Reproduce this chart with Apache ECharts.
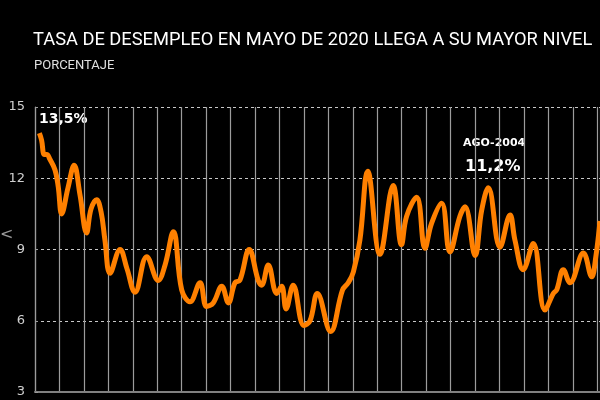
<!DOCTYPE html>
<html>
<head>
<meta charset="utf-8">
<script src="https://cdn.jsdelivr.net/npm/echarts@6/dist/echarts.min.js"></script>
<style>
  html, body { margin: 0; padding: 0; background: #000; }
  #chart { width: 600px; height: 400px; }
</style>
</head>
<body>
<div id="chart"></div>
<script>
// Tasa de desempleo (porcentaje): fecha en anios decimales
const years = [
  1986.18, 1986.27, 1986.38, 1986.48, 1986.61, 1986.82, 1986.95, 1987.09, 1987.35, 1987.6,
  1987.84, 1988.11, 1988.29, 1988.52, 1988.7, 1988.86, 1989.07, 1989.48, 1989.76, 1990.09,
  1990.57, 1991.04, 1991.32, 1991.66, 1992.0, 1992.34, 1992.75, 1993.02, 1993.29, 1993.64,
  1993.91, 1994.18, 1994.38, 1994.76, 1995.13, 1995.27, 1995.54, 1995.89, 1996.09, 1996.27,
  1996.56, 1997.0, 1997.25, 1997.55, 1998.09, 1998.58, 1998.81, 1999.02, 1999.29, 1999.61,
  2000.11, 2000.65, 2000.99, 2001.2, 2001.61, 2001.95, 2002.22, 2002.63, 2002.97, 2003.38,
  2003.59, 2004.0, 2004.27, 2004.54, 2005.02, 2005.43, 2005.63, 2005.97, 2006.38, 2006.86,
  2007.2, 2007.34, 2007.61, 2007.88, 2008.43, 2008.77, 2008.94, 2009.11
];
const rate = [
  13.9, 13.6, 13.0, 13.0, 12.8, 12.35, 11.65, 10.5, 11.6, 12.55,
  11.3, 9.7, 10.7, 11.1, 10.6, 9.4, 8.0, 9.0, 8.2, 7.2,
  8.7, 7.7, 8.35, 9.75, 7.3, 6.8, 7.6, 6.6, 6.75, 7.45,
  6.75, 7.6, 7.7, 9.0, 7.7, 7.5, 8.35, 7.15, 7.45, 6.5,
  7.5, 5.8, 6.0, 7.15, 5.55, 7.3, 7.6, 8.05, 9.4, 12.3,
  8.8, 11.7, 9.2, 10.4, 11.2, 9.05, 10.1, 10.95, 8.9, 10.4,
  10.8, 8.75, 10.65, 11.6, 9.1, 10.45, 9.4, 8.15, 9.25, 6.45,
  7.15, 7.3, 8.15, 7.6, 8.85, 7.85, 8.7, 10.2
];
const yTicks = [3, 6, 9, 12, 15];

const chart = echarts.init(document.getElementById('chart'));

chart.setOption({
  backgroundColor: '#000',
  animation: false,
  grid: { left: 35, right: 0, top: 107, bottom: 8 },
  xAxis: {
    type: 'value',
    min: 1986,
    max: 2009.11,
    interval: 1,
    axisLine: { show: true, lineStyle: { color: '#808080', width: 2 } },
    axisTick: { show: false },
    axisLabel: { show: false },
    splitLine: { show: true, lineStyle: { color: '#9c9c9c', width: 1.2, type: 'solid' } }
  },
  yAxis: {
    type: 'value',
    min: yTicks[0],
    max: yTicks[yTicks.length - 1],
    interval: 3,
    axisLine: { show: true, lineStyle: { color: '#9c9c9c', width: 1.2 } },
    axisTick: { show: true, inside: true, length: 3, lineStyle: { color: '#9c9c9c' } },
    axisLabel: { color: '#cfcfcf', fontSize: 13, fontFamily: 'DejaVu Sans', margin: 10 },
    splitLine: { show: true, lineStyle: { color: '#c8c8c8', width: 1, type: [3, 3] } }
  },
  series: [{
    type: 'line',
    data: years.map((y, i) => [y, rate[i]]),
    symbol: 'none',
    smooth: 0.4,
    lineStyle: { color: '#ff8000', width: 5 }
  }],
  graphic: [
    { type: 'text', left: 33, top: 31,
      style: { text: 'TASA DE DESEMPLEO EN MAYO DE 2020 LLEGA A SU MAYOR NIVEL', fill: '#fff',
               font: '18.3px Roboto' } },
    { type: 'text', left: 34, top: 59,
      style: { text: 'PORCENTAJE', fill: '#e0e0e0', font: '13px Roboto' } },
    { type: 'text', left: 39, top: 112,
      style: { text: '13,5%', fill: '#fff', font: 'bold 14px "DejaVu Sans"' } },
    { type: 'text', left: 463, top: 138,
      style: { text: 'AGO-2004', fill: '#fff', font: 'bold 11px "DejaVu Sans"' } },
    { type: 'text', left: 465, top: 159,
      style: { text: '11,2%', fill: '#fff', font: 'bold 16px "DejaVu Sans"' } },
    { type: 'text', left: 0, top: 227,
      style: { text: '<', fill: '#999', font: '16px "DejaVu Sans"' } }
  ]
});
</script>
</body>
</html>
